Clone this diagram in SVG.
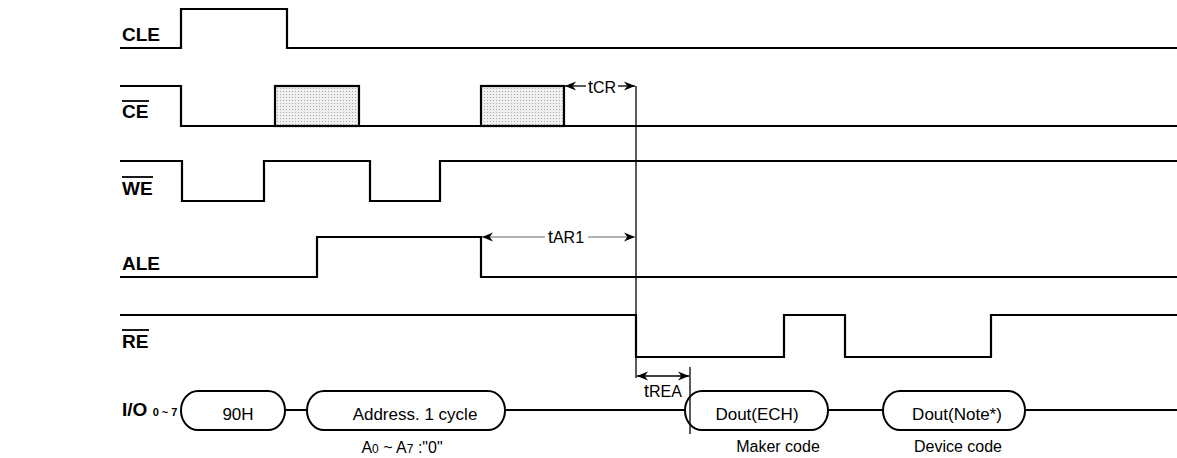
<svg xmlns="http://www.w3.org/2000/svg" width="1177" height="458" viewBox="0 0 1177 458">
<defs>
<pattern id="dots" width="3" height="3" patternUnits="userSpaceOnUse">
<rect width="3" height="3" fill="#f0f0f0"/>
<rect x="1" y="1" width="1" height="1" fill="#a8a8a8"/>
</pattern>
<marker id="ah" viewBox="0 0 10 10" refX="10" refY="5" markerWidth="11" markerHeight="11" markerUnits="userSpaceOnUse" orient="auto-start-reverse">
<path d="M0,1 L10,5 L0,9 L3,5 Z" fill="#000"/>
</marker>
</defs>
<style>
.sig{fill:none;stroke:#000;stroke-width:2.2;stroke-linejoin:miter}
.thin{fill:none;stroke:#000;stroke-width:1.3}
.gray{fill:none;stroke:#999;stroke-width:1.3}
.lbl{font-family:"Liberation Sans",Arial,sans-serif;font-weight:bold;font-size:19px;fill:#000}
.sub{font-size:11px}
.txt{font-family:"Liberation Sans",Arial,sans-serif;font-size:17px;fill:#000}
.tm{font-family:"Liberation Sans",Arial,sans-serif;font-size:18px;fill:#000}
.small{font-family:"Liberation Sans",Arial,sans-serif;font-size:16px;fill:#000}
.bub{fill:#fff;stroke:#000;stroke-width:2}
.shade{fill:url(#dots);stroke:#000;stroke-width:2.2}
.ol{stroke:#000;stroke-width:1.8}
</style>

<g id="labels">
<text class="lbl" x="122" y="41">CLE</text>
<text class="lbl" x="122" y="118">CE</text>
<line class="ol" x1="122" y1="101" x2="149" y2="101"/>
<text class="lbl" x="122" y="195">WE</text>
<line class="ol" x1="122" y1="177" x2="153" y2="177"/>
<text class="lbl" x="122" y="270">ALE</text>
<text class="lbl" x="122" y="348">RE</text>
<line class="ol" x1="122" y1="330" x2="149" y2="330"/>
<text class="lbl" x="122" y="416">I/O <tspan class="sub">0 ~ 7</tspan></text>
</g>

<g id="CLE">
<path class="sig" d="M120,48 H181 V9 H287 V48 H1177"/>
</g>

<g id="CE">
<path class="sig" d="M120,86 H181 V126 H1177"/>
<rect class="shade" x="275" y="86" width="84" height="40"/>
<rect class="shade" x="481" y="86" width="83" height="40"/>
</g>

<g id="WE">
<path class="sig" d="M120,161 H182 V201 H264 V161 H370 V201 H440 V161 H1177"/>
</g>

<g id="ALE">
<path class="sig" d="M120,277 H317 V237 H481 V277 H1177"/>
</g>

<g id="RE">
<path class="sig" d="M120,315 H636 V357 H784 V315 H845 V357 H991 V315 H1177"/>
</g>

<g id="IO">
<path class="sig" d="M285,410 H307 M505,410 H685 M828,410 H883 M1025,410 H1177" style="stroke-width:1.8"/>
<g id="b90H">
<rect class="bub" x="181" y="391" width="104" height="39" rx="17" ry="19.5"/>
<text class="txt" x="238" y="420" text-anchor="middle">90H</text>
</g>
<g id="bAddr">
<rect class="bub" x="307" y="391" width="198" height="39" rx="17" ry="19.5"/>
<text class="txt" x="415" y="420" text-anchor="middle">Address. 1 cycle</text>
<text class="small" x="402" y="453" text-anchor="middle">A<tspan font-size="12">0</tspan> ~ A<tspan font-size="12">7</tspan> :"0"</text>
</g>
<g id="bECH">
<rect class="bub" x="685" y="391" width="143" height="39" rx="17" ry="19.5"/>
<text class="txt" x="757" y="420" text-anchor="middle">Dout(ECH)</text>
<text class="small" x="778" y="452" text-anchor="middle">Maker code</text>
</g>
<g id="bNote">
<rect class="bub" x="883" y="391" width="142" height="39" rx="17" ry="19.5"/>
<text class="txt" x="957" y="420" text-anchor="middle">Dout(Note*)</text>
<text class="small" x="958" y="452" text-anchor="middle">Device code</text>
</g>
</g>

<g id="connectors">
<line class="thin" x1="636" y1="86" x2="636" y2="378"/>
<line class="thin" x1="690" y1="367" x2="690" y2="434"/>
<line class="thin" x1="565" y1="86" x2="586" y2="86" marker-start="url(#ah)"/>
<line class="thin" x1="618" y1="86" x2="635" y2="86" marker-end="url(#ah)"/>
<text class="tm" x="602" y="93" text-anchor="middle">t<tspan font-size="16">CR</tspan></text>
<line class="gray" x1="482" y1="237" x2="545" y2="237" marker-start="url(#ah)"/>
<line class="gray" x1="588" y1="237" x2="635" y2="237" marker-end="url(#ah)"/>
<text class="tm" x="566" y="243" text-anchor="middle">t<tspan font-size="16">AR1</tspan></text>
<line class="thin" x1="637" y1="376" x2="689" y2="376" marker-start="url(#ah)" marker-end="url(#ah)"/>
<text class="tm" x="663" y="397" text-anchor="middle">t<tspan font-size="16">REA</tspan></text>
</g>
</svg>
